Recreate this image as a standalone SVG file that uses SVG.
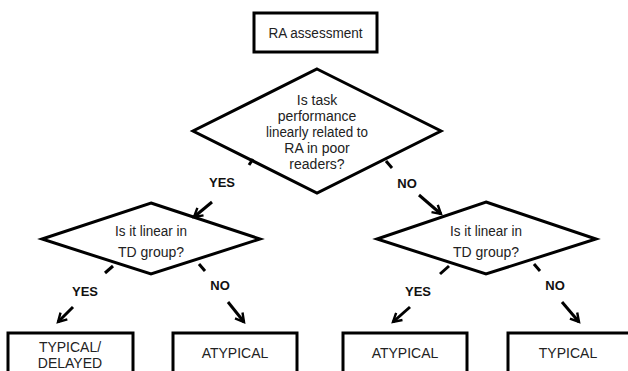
<svg xmlns="http://www.w3.org/2000/svg" width="628" height="371" viewBox="0 0 628 371">
<defs>
<style>
.shape{fill:#fff;stroke:#000;stroke-width:3}
.t{font-family:"Liberation Sans",Arial,sans-serif;font-size:14px;fill:#222;text-anchor:middle}
.lbl{font-family:"Liberation Sans",Arial,sans-serif;font-size:13px;font-weight:bold;fill:#111;text-anchor:middle}
.c{stroke:#000;stroke-width:3;fill:none;stroke-linecap:butt}
</style>
<marker id="ah" viewBox="0 0 10 10" refX="8" refY="5" markerWidth="4" markerHeight="4" orient="auto" markerUnits="strokeWidth">
<polyline points="1,1 8,5 1,9" fill="none" stroke="#000" stroke-width="2"/>
</marker>
</defs>
<rect width="628" height="371" fill="#fff"/>
<g id="start">
<rect class="shape" x="254" y="13" width="123" height="39"/>
<text class="t" x="315.5" y="38" textLength="94" lengthAdjust="spacingAndGlyphs">RA assessment</text>
</g>
<g id="q1">
<polygon class="shape" points="317,69 441,131 317,193 193,131"/>
<text class="t" x="317" y="105">Is task</text>
<text class="t" x="317" y="121">performance</text>
<text class="t" x="317" y="137" textLength="102" lengthAdjust="spacingAndGlyphs">linearly related to</text>
<text class="t" x="317" y="153">RA in poor</text>
<text class="t" x="317" y="169">readers?</text>
</g>
<g id="q2">
<polygon class="shape" points="151,203 260,239 151,274 42,239"/>
<text class="t" x="151" y="236" textLength="72" lengthAdjust="spacingAndGlyphs">Is it linear in</text>
<text class="t" x="151" y="257">TD group?</text>
</g>
<g id="q3">
<polygon class="shape" points="486,202 596,239 486,274 377,239"/>
<text class="t" x="486" y="236" textLength="72" lengthAdjust="spacingAndGlyphs">Is it linear in</text>
<text class="t" x="486" y="257">TD group?</text>
</g>
<g id="typdel">
<rect class="shape" x="8" y="333" width="125" height="45"/>
<text class="t" x="70" y="352">TYPICAL/</text>
<text class="t" x="70" y="368">DELAYED</text>
</g>
<g id="atyp1">
<rect class="shape" x="173" y="333" width="124" height="45"/>
<text class="t" x="235" y="358">ATYPICAL</text>
</g>
<g id="atyp2">
<rect class="shape" x="343" y="333" width="124" height="45"/>
<text class="t" x="405" y="358">ATYPICAL</text>
</g>
<g id="typ">
<rect class="shape" x="508" y="333" width="124" height="45"/>
<text class="t" x="568" y="358">TYPICAL</text>
</g>
<g id="connectors">
<line class="c" x1="253" y1="159" x2="249" y2="165"/>
<line class="c" x1="212" y1="202" x2="194" y2="217" marker-end="url(#ah)"/>
<line class="c" x1="386" y1="161" x2="392" y2="168"/>
<line class="c" x1="419" y1="195" x2="441" y2="214" marker-end="url(#ah)"/>
<line class="c" x1="113" y1="266" x2="105" y2="273"/>
<line class="c" x1="73" y1="307" x2="58" y2="322" marker-end="url(#ah)"/>
<line class="c" x1="199" y1="264" x2="205" y2="271"/>
<line class="c" x1="228" y1="302" x2="244" y2="322" marker-end="url(#ah)"/>
<line class="c" x1="449" y1="266" x2="440" y2="274"/>
<line class="c" x1="410" y1="307" x2="393" y2="322" marker-end="url(#ah)"/>
<line class="c" x1="534" y1="264" x2="540" y2="271"/>
<line class="c" x1="562" y1="302" x2="579" y2="322" marker-end="url(#ah)"/>
<text class="lbl" x="222" y="187">YES</text>
<text class="lbl" x="407" y="188">NO</text>
<text class="lbl" x="85" y="296">YES</text>
<text class="lbl" x="220" y="290">NO</text>
<text class="lbl" x="418" y="296">YES</text>
<text class="lbl" x="555" y="290">NO</text>
</g>
</svg>
